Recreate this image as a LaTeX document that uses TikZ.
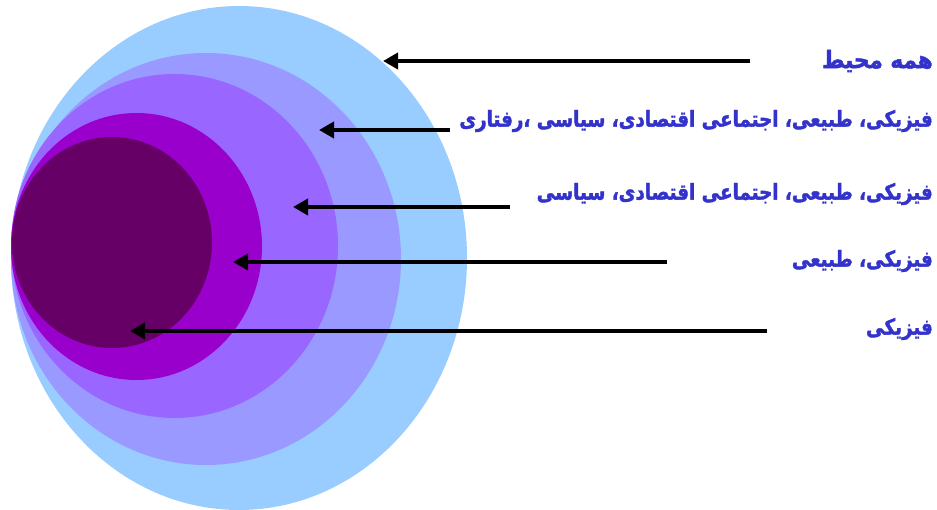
\documentclass[tikz,border=0pt]{standalone}
\usepackage{fontspec}
\usepackage{graphicx}
\newfontfamily\fa[Script=Arabic,FakeStretch=0.83,BoldFeatures={FakeBold=1.8}]{DejaVu Sans}
\TeXXeTstate=1
\usetikzlibrary{arrows.meta}
\definecolor{ringA}{HTML}{99CCFF}
\definecolor{ringB}{HTML}{9999FF}
\definecolor{ringC}{HTML}{9966FF}
\definecolor{ringD}{HTML}{9900CC}
\definecolor{ringE}{HTML}{660066}
\definecolor{labelblue}{HTML}{3333CC}
\tikzset{
  lab/.style={anchor=east, inner sep=0pt, text=labelblue, font=\fa\bfseries\fontsize{22}{26}\selectfont},
  pointer/.style={draw=black, line width=4pt, -{Triangle[length=15pt,width=16pt]}}
}
\begin{document}
\begin{tikzpicture}[x=1pt,y=-1pt]
\useasboundingbox (0,0) rectangle (937,510);
\fill[ringA] (239,258) ellipse [x radius=228, y radius=252];
\fill[ringB] (206,259) ellipse [x radius=195, y radius=206];
\fill[ringC] (174.5,246) ellipse [x radius=163.5, y radius=172];
\fill[ringD] (136.5,246.5) ellipse [x radius=125.5, y radius=133.5];
\fill[ringE] (112,242.5) ellipse [x radius=100, y radius=105.5];

\node[lab] (l1) at (933,61) {\scalebox{1.18}[1.1]{\beginR همه محیط\endR}};
\node[lab] (l2) at (933,121) {\beginR فیزیکی، طبیعی، اجتماعی اقتصادی، سیاسی ،رفتاری\endR};
\node[lab] (l3) at (933,194) {\beginR فیزیکی، طبیعی، اجتماعی اقتصادی، سیاسی\endR};
\node[lab] (l4) at (933,261) {\beginR فیزیکی، طبیعی\endR};
\node[lab] (l5) at (933,329) {\beginR فیزیکی\endR};

\coordinate (t1) at (750,61);  \coordinate (h1) at (383,61);
\coordinate (t2) at (450,130); \coordinate (h2) at (319,130);
\coordinate (t3) at (510,207); \coordinate (h3) at (293,207);
\coordinate (t4) at (667,262); \coordinate (h4) at (233,262);
\coordinate (t5) at (767,331); \coordinate (h5) at (130,331);

\draw[pointer] (t1) -- (h1);
\draw[pointer] (t2) -- (h2);
\draw[pointer] (t3) -- (h3);
\draw[pointer] (t4) -- (h4);
\draw[pointer] (t5) -- (h5);
\end{tikzpicture}
\end{document}
